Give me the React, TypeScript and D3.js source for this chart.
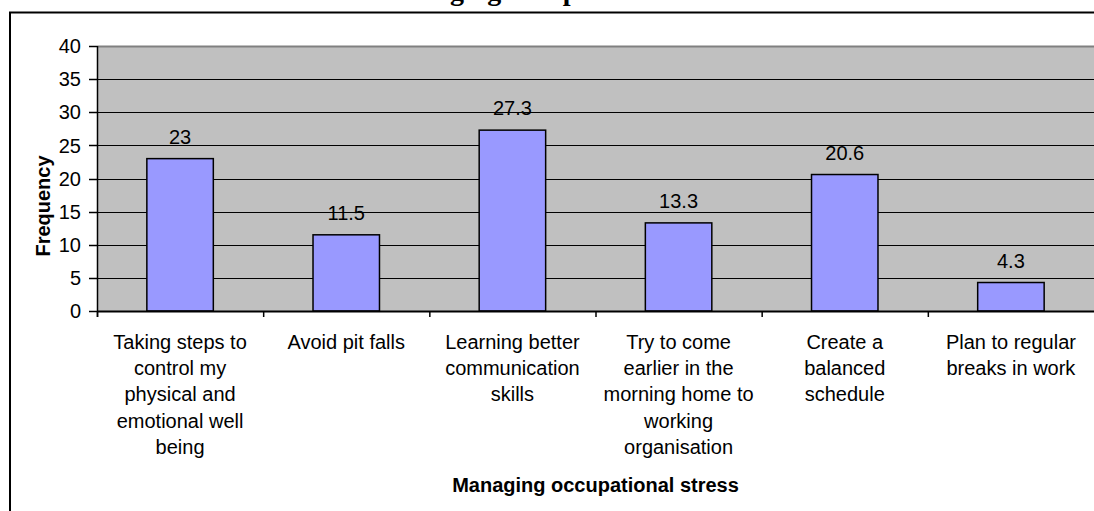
import React, { useRef, useEffect } from 'react';
import * as d3 from 'd3';

const width = 1094;
const height = 511;

// categories, each already split into the lines shown under the axis
const categories = [
  'Taking steps to control my physical and emotional well being',
  'Avoid pit falls',
  'Learning better communication skills',
  'Try to come earlier in the morning home to working organisation',
  'Create a balanced schedule',
  'Plan to regular breaks in work',
];
const categoryLines = [
  ['Taking steps to', 'control my', 'physical and', 'emotional well', 'being'],
  ['Avoid pit falls'],
  ['Learning better', 'communication', 'skills'],
  ['Try to come', 'earlier in the', 'morning home to', 'working', 'organisation'],
  ['Create a', 'balanced', 'schedule'],
  ['Plan to regular', 'breaks in work'],
];
const frequency = [23, 11.5, 27.3, 13.3, 20.6, 4.3];
const yTicks = [0, 5, 10, 15, 20, 25, 30, 35, 40];

const chartTitle = 'Managing occupational stress';
const xTitle = 'Managing occupational stress';
const yTitle = 'Frequency';

const sans = '"Liberation Sans", Arial, sans-serif';

export default function App() {
  const svgRef = useRef<SVGSVGElement>(null);

  useEffect(() => {
    const svg = d3.select(svgRef.current);
    svg.selectAll('*').remove();

    const left = 97, right = 1094, top = 46, bottom = 311;

    const x = d3.scaleBand<string>().domain(categories).range([left, right]);
    const y = d3.scaleLinear().domain([0, 40]).range([bottom, top]);
    const bw = x.bandwidth();

    // outer chart border (runs off the picture on the right and bottom)
    svg.append('rect')
      .attr('x', 10).attr('y', 12.5)
      .attr('width', 1200).attr('height', 600)
      .attr('fill', 'white').attr('stroke', '#000').attr('stroke-width', 2);

    // title, cut off by the top edge like in the source (only descenders show)
    svg.append('text')
      .attr('x', 557).attr('y', 0)
      .attr('text-anchor', 'middle')
      .attr('font-family', '"Liberation Serif", "Times New Roman", serif')
      .attr('font-weight', 'bold')
      .attr('font-size', 28)
      .text(chartTitle);

    // plot area
    svg.append('rect')
      .attr('x', left).attr('y', top)
      .attr('width', right - left).attr('height', bottom - top)
      .attr('fill', '#C0C0C0');

    // gridlines
    svg.append('g')
      .selectAll('line')
      .data(yTicks.filter(d => d > 0))
      .join('line')
      .attr('x1', left).attr('x2', right)
      .attr('y1', d => Math.round(y(d)) + 0.5)
      .attr('y2', d => Math.round(y(d)) + 0.5)
      .attr('stroke', d => (d === 40 ? '#808080' : '#000'))
      .attr('stroke-width', d => (d === 40 ? 2 : 1.2));

    // bars
    svg.append('g')
      .selectAll('rect')
      .data(frequency)
      .join('rect')
      .attr('x', (d, i) => x(categories[i])! + bw * 0.3)
      .attr('y', d => y(d))
      .attr('width', bw * 0.4)
      .attr('height', d => bottom - y(d))
      .attr('fill', '#9999FF')
      .attr('stroke', '#000')
      .attr('stroke-width', 1.5);

    // value labels
    svg.append('g')
      .selectAll('text')
      .data(frequency)
      .join('text')
      .attr('x', (d, i) => x(categories[i])! + bw / 2)
      .attr('y', d => y(d) - 15)
      .attr('text-anchor', 'middle')
      .attr('font-family', sans)
      .attr('font-size', 20)
      .text(d => String(d));

    // y axis
    const yAxis = svg.append('g');
    yAxis.append('line')
      .attr('x1', left + 0.5).attr('x2', left + 0.5)
      .attr('y1', top).attr('y2', bottom + 6)
      .attr('stroke', '#000').attr('stroke-width', 1.5);
    yAxis.selectAll('line.tick')
      .data(yTicks)
      .join('line')
      .attr('class', 'tick')
      .attr('x1', left - 8).attr('x2', left)
      .attr('y1', d => Math.round(y(d)) + 0.5)
      .attr('y2', d => Math.round(y(d)) + 0.5)
      .attr('stroke', '#000').attr('stroke-width', 1.5);
    yAxis.selectAll('text')
      .data(yTicks)
      .join('text')
      .attr('x', 81)
      .attr('y', d => y(d))
      .attr('dy', '0.36em')
      .attr('text-anchor', 'end')
      .attr('font-family', sans)
      .attr('font-size', 20)
      .text(d => d);

    // x axis
    const xAxis = svg.append('g');
    xAxis.append('line')
      .attr('x1', left).attr('x2', right)
      .attr('y1', bottom + 0.5).attr('y2', bottom + 0.5)
      .attr('stroke', '#000').attr('stroke-width', 2);
    xAxis.selectAll('line.tick')
      .data(categories)
      .join('line')
      .attr('class', 'tick')
      .attr('x1', d => x(d)! + 0.5).attr('x2', d => x(d)! + 0.5)
      .attr('y1', bottom).attr('y2', bottom + 6)
      .attr('stroke', '#000').attr('stroke-width', 1.5);

    const labels = xAxis.selectAll('text')
      .data(categories)
      .join('text')
      .attr('text-anchor', 'middle')
      .attr('font-family', sans)
      .attr('font-size', 20);
    labels.each(function (d, i) {
      const t = d3.select(this);
      categoryLines[i].forEach((ln, j) => {
        t.append('tspan')
          .attr('x', x(d)! + bw / 2)
          .attr('y', 349 + j * 26.2)
          .text(ln);
      });
    });

    // axis titles
    svg.append('text')
      .attr('x', (left + right) / 2).attr('y', 492)
      .attr('text-anchor', 'middle')
      .attr('font-family', sans)
      .attr('font-weight', 'bold')
      .attr('font-size', 20)
      .text(xTitle);

    svg.append('text')
      .attr('transform', 'translate(50,206) rotate(-90)')
      .attr('text-anchor', 'middle')
      .attr('font-family', sans)
      .attr('font-weight', 'bold')
      .attr('font-size', 20)
      .text(yTitle);
  }, []);

  return (
    <svg
      ref={svgRef}
      width={width}
      height={height}
      style={{ position: 'absolute', left: 0, top: 0, background: '#fff' }}
    />
  );
}
